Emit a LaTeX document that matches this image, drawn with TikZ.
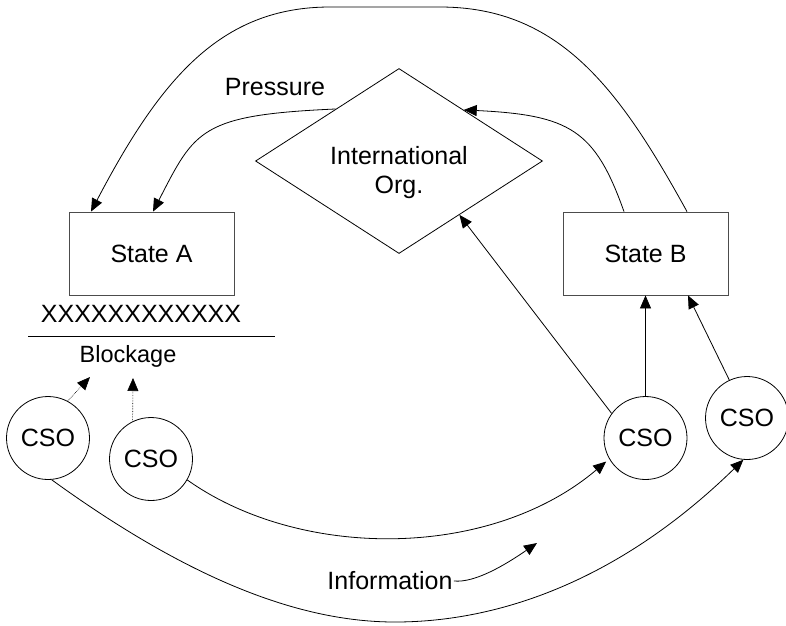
\documentclass[tikz,border=0pt]{standalone}
\usepackage{fontspec}
\setmainfont{Liberation Sans}
\usetikzlibrary{shapes.geometric,arrows.meta,calc}

\begin{document}
\begin{tikzpicture}[x=1pt, y=-1pt, line width=0.8pt,
                        every node/.style={font=\fontsize{25}{29}\selectfont, inner sep=1pt},
                        statebox/.style={shape=rectangle, draw=black!70, minimum width=165pt, minimum height=83pt},
                        csonode/.style={shape=circle, draw=black, minimum size=83pt, inner sep=0pt},
                        orgshape/.style={shape=diamond, draw=black, minimum width=287pt, minimum height=185pt, inner sep=0pt},
                        sendarrow/.style={-{Triangle[length=13pt,width=11pt]}},
                        hintarrow/.style={-{Triangle[length=13pt,width=11pt]}, densely dotted, line width=0.6pt}]

                        \useasboundingbox (0,0) rectangle (786,625);

                        % Define nodes
                        \node[orgshape] (org) at (399,161) {}; % International org.
                        \node[align=center] (orgtext) at (399,173) {International\\Org.};
                        \node[statebox] (stateA) at (151.5,253.5) {State A};
                        \node[statebox] (stateB) at (645.5,253.5) {State B};
                        \node (pressure) at (275,87) {Pressure};
                        \node (xline) at (141,314) {XXXXXXXXXXXX};
                        \node[font=\fontsize{23.5}{28}\selectfont, anchor=base] (blockage) at (128,362) {Blockage};
                        \node[csonode] (cso1) at (48,438) {CSO}; % blocked
                        \node[csonode] (cso2) at (151,459) {CSO}; % blocked
                        \node[csonode] (cso3) at (645.5,438) {CSO};
                        \node[csonode] (cso4) at (747,418) {CSO};
                        \node (info) at (390,581) {Information};

                        \coordinate (blockA) at (90,377);
                        \coordinate (blockB) at (133,378);
                        \coordinate (infoend) at (537,543);

                        % Blockage line
                        \draw (28,336) -- (275,336);

                        % Define edges
                        \draw[sendarrow] ([xshift=41.5pt]stateB.north) .. controls (620,90) and (560,7) .. (440,7)
                            -- (330,7) .. controls (220,7) and (160,80) .. ([xshift=-60.5pt]stateA.north);
                        \draw[sendarrow] ($(org.west)!0.56!(org.north)$) .. controls (200,115) and (195,130) .. ([xshift=1.5pt]stateA.north);
                        \draw[sendarrow] ([xshift=-21.5pt]stateB.north) .. controls (595,130) and (570,115) .. ($(org.north)!0.45!(org.east)$);
                        \draw[sendarrow] (cso3.144) -- ($(org.south)!0.42!(org.east)$);
                        \draw[sendarrow] (cso3.north) -- (stateB.south);
                        \draw[sendarrow] (cso4.115) -- ([xshift=42.5pt]stateB.south);
                        \draw[hintarrow] (cso1.62) -- (blockA);
                        \draw[hintarrow] (cso2.116) -- (blockB);
                        \draw[sendarrow, shorten >=4pt] (cso2.-30) .. controls (300,560) and (490,560) .. (cso3.210);
                        \draw[sendarrow] (cso1.-85) .. controls (190,580) and (300,622) .. (395,622)
                            .. controls (500,622) and (620,580) .. (cso4.265);
                        \draw[sendarrow] (info.east) .. controls (475,583) and (505,565) .. (infoend);
                        \end{tikzpicture}
\end{document}
